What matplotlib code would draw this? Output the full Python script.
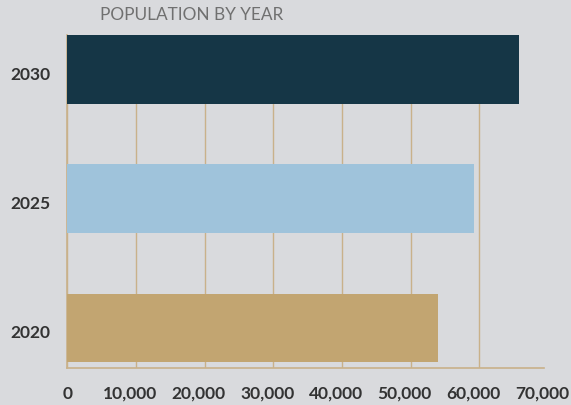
import matplotlib.pyplot as plt
import matplotlib.transforms as mtransforms
from matplotlib.ticker import FuncFormatter

years = ["2020", "2025", "2030"]
population = [54000, 59200, 65700]
bar_colors = ["#c2a571", "#9fc3db", "#153646"]
xticks = [0, 10000, 20000, 30000, 40000, 50000, 60000, 70000]

bg = "#d9dadd"
line_col = "#c9b18a"

plt.rcParams['font.family'] = ['Lato', 'DejaVu Sans']

fig = plt.figure(figsize=(5.71, 4.06), dpi=100, facecolor=bg)
ax = fig.add_axes([0.118, 0.091, 0.842, 0.82], facecolor=bg)

ax.barh(range(len(years)), population, height=0.53, color=bar_colors, zorder=3)

ax.set_xlim(0, 70000)
ax.set_ylim(-0.31, 2.265)
ax.set_xticks(xticks)
ax.xaxis.set_major_formatter(FuncFormatter(lambda v, p: f"{int(v):,}"))
ax.set_yticks(range(len(years)))
ax.set_yticklabels(years)

ax.grid(axis='x', color=line_col, linewidth=1.0, zorder=0)
ax.get_xgridlines()[-1].set_visible(False)

for s in ["top", "right"]:
    ax.spines[s].set_visible(False)
for s in ["left", "bottom"]:
    ax.spines[s].set_color(line_col)
    ax.spines[s].set_linewidth(1.2)
ax.spines["bottom"].set_bounds(0, 69400)

ax.tick_params(axis='both', length=0, labelsize=12.5, labelcolor="#333333")
ax.tick_params(axis='x', pad=12)
ax.tick_params(axis='y', pad=12.5)
for lab in ax.get_xticklabels() + ax.get_yticklabels():
    lab.set_fontweight('bold')

# tick labels sit a little off their gridlines / bar centres in the original
xshift = mtransforms.ScaledTranslation(-6 / 100, 0, fig.dpi_scale_trans)
for lab in ax.get_xticklabels()[1:]:
    lab.set_transform(lab.get_transform() + xshift)
yshift = mtransforms.ScaledTranslation(0, -3 / 100, fig.dpi_scale_trans)
for lab in ax.get_yticklabels():
    lab.set_transform(lab.get_transform() + yshift)

fig.text(0.175, 0.963, "POPULATION BY YEAR", fontsize=12.4, color="#707070",
         ha='left', va='center')

fig.savefig("out.png", dpi=100, facecolor=bg)
